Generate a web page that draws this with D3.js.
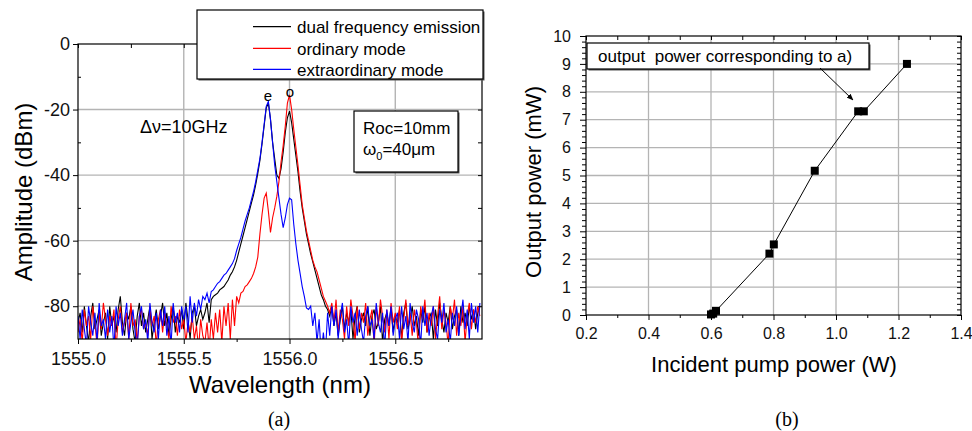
<!DOCTYPE html>
<html>
<head>
<meta charset="utf-8">
<script src="https://cdn.jsdelivr.net/npm/d3@7"></script>
<style>
  body { margin: 0; background: #fff; }
  svg { display: block; font-family: "Liberation Sans", Arial, sans-serif; }
</style>
</head>
<body>
<svg id="fig" width="972" height="431"></svg>
<script>
// ---------- panel (a): optical spectrum, one sample every 0.01 nm from 1555.00 nm ----------
const wlStart = 1555.0;
const wlStep = 0.01;

const dualEmission = [
  -85,-82,-88,-80,-86,-91,-83,-79,-87,-84,-81,-89,-85,-82,-90,-80,-86,-83,-88,-81,
  -77,-85,-89,-82,-84,-80,-87,-91,-83,-79,-86,-82,-88,-84,-80,-90,-85,-81,-87,-83,
  -79,-86,-82,-89,-84,-80,-88,-83,-85,-81,-87,-79,-84,-90,-82,-80,-86,-83,-81,-84,
  -82,-79,-85,-78,-77,-76.5,-76,-75,-74.5,-74,
  -73,-72,-70.5,-69.5,-68,-66,-63.5,-61,-58.5,-56,
  -53.5,-51,-48.5,-46,-43,-39.5,-35.5,-30.5,-25,-19.5,
  -18,-23,-30,-35,-40,-41,-38,-33,-27,-22.5,
  -20.5,-24,-29,-34,-39,-45,-50,-54,-58,-61,
  -64,-66.5,-69,-71.5,-74,-76.5,-78,-80,
  -81,-83,-80,-86,-82,-89,-84,-80,-87,-82,
  -85,-81,-90,-83,-80,-88,-84,-82,-86,-80,
  -89,-83,-81,-87,-85,-80,-91,-84,-82,-86,
  -80,-88,-83,-85,-81,-90,-82,-79,-87,-84,
  -80,-86,-83,-89,-81,-85,-80,-88,-84,-82,
  -90,-81,-86,-79,-84,-88,-82,-85,-80,-87,
  -83,-81,-89,-80,-85,-82,-86,-80,-84,-81,
  -87,-82,-80
];

const ordinaryMode = [
  -88,-84,-91,-81,-86,-83,-90,-80,-85,-92,-82,-87,-79,-84,-89,-83,-86,-81,-93,-84,
  -80,-88,-85,-82,-90,-79,-86,-84,-91,-83,-81,-87,-85,-89,-80,-86,-83,-92,-84,-81,
  -88,-82,-86,-90,-80,-85,-83,-89,-81,-87,-84,-91,-85,-88,-83,-90,-86,-93,-84,-89,
  -91,-85,-93,-84,-90,-82,-88,-81,-91,-80,
  -86,-79,-90,-78,-86,-77,-79,-76,-75.5,-74,
  -73.5,-72.5,-71.5,-70,-68,-65,-58,-52,-47,-45.5,
  -51,-57.5,-53,-50,-46.5,-42,-36,-31,-25,-18,
  -15.5,-20,-26,-31.5,-37,-43,-49,-53,-57,-60,
  -63,-66,-68,-69.5,-72,-74.5,-77,-78.5,
  -80,-82,-79,-85,-78,-88,-81,-84,-90,-80,
  -86,-78,-83,-91,-80,-87,-82,-85,-79,-89,
  -84,-81,-92,-80,-86,-78,-83,-88,-81,-90,
  -79,-85,-82,-87,-80,-91,-84,-78,-86,-82,
  -89,-81,-85,-93,-80,-84,-78,-88,-82,-86,
  -80,-90,-83,-77,-87,-81,-85,-92,-80,-84,
  -78,-89,-82,-86,-80,-91,-83,-79,-87,-81,
  -85,-80,-83
];

const extraordinaryMode = [
  -83,-90,-81,-87,-92,-80,-85,-89,-82,-91,-79,-86,-84,-90,-81,-88,-83,-93,-80,-86,
  -82,-89,-84,-79,-90,-85,-81,-88,-92,-83,-80,-87,-84,-91,-79,-85,-88,-82,-90,-81,
  -86,-80,-89,-83,-92,-79,-85,-82,-88,-80,
  -84,-80,-88,-77,-85,-79,-83,-78,-81,-77,
  -78,-76,-79,-75.5,-75,-74,-73,-72.5,-71.5,-70.5,
  -70,-69,-68,-67,-65.5,-63,-61,-59,-56.5,-54,
  -52,-50,-47.5,-45,-42,-38.5,-35,-30,-24.5,-19,
  -17.5,-23,-30,-37,-42,-47,-52,-56,-53,-49,
  -47,-47.5,-55,-61,-66,-70,-74,-77,-80.5,-81,
  -80,-86,-82,-91,-84,-95,-88,-94,-82,-89,-80,
  -86,-81,-90,-83,-79,-88,-84,-92,-80,-85,
  -82,-89,-81,-87,-91,-83,-80,-86,-84,-90,
  -79,-85,-88,-82,-93,-81,-86,-80,-89,-84,
  -82,-90,-80,-87,-83,-91,-79,-85,-88,-81,
  -84,-92,-80,-86,-82,-89,-83,-80,-87,-90,
  -81,-85,-79,-88,-84,-91,-82,-86,-80,-89,
  -83,-78,-87,-81,-90,-79,-85,-80,-88,-79
];

const ampTicks = [0, -20, -40, -60, -80];
const ampMinorTicks = [-10, -30, -50, -70];
const wlTicks = [1555.0, 1555.5, 1556.0, 1556.5];
const wlMinorTicks = [1555.25, 1555.75, 1556.25, 1556.75];

const spectrumSeries = [
  { label: "dual frequency emission", color: "#000000", values: dualEmission },
  { label: "ordinary mode", color: "#ff0000", values: ordinaryMode },
  { label: "extraordinary mode", color: "#0000ff", values: extraordinaryMode }
];

// ---------- panel (b): output vs pump power ----------
const pumpPower = [0.600, 0.607, 0.616, 0.787, 0.801, 0.932, 1.071, 1.089, 1.227];
const outputPower = [0.02, 0.05, 0.15, 2.2, 2.53, 5.17, 7.3, 7.3, 9.0];
const pumpTicks = [0.2, 0.4, 0.6, 0.8, 1.0, 1.2, 1.4];
const pumpMinorTicks = [0.3, 0.5, 0.7, 0.9, 1.1, 1.3];
const outTicks = d3.range(0, 11);
const outMinorTicks = [];
for (let v = 0; v < 10; v++) for (let k = 1; k < 5; k++) outMinorTicks.push(+(v + k * 0.2).toFixed(1));

const svg = d3.select("#fig");
const black = "#000";
const gridColor = "#b4b4b4";

// draws a tick-only axis (no domain path)
function tickAxis(g, axis, fontSize) {
  g.call(axis);
  g.select(".domain").remove();
  g.selectAll("line").attr("stroke", black).attr("stroke-width", 1);
  g.selectAll("text").attr("font-size", fontSize).attr("fill", "#111")
    .attr("font-family", "'Liberation Sans', Arial, sans-serif");
}

function shadowBox(g, x0, y0, x1, y1) {
  g.append("rect").attr("x", x0 + 1.5).attr("y", y0 + 1.5)
    .attr("width", x1 - x0).attr("height", y1 - y0).attr("fill", "#555");
  g.append("rect").attr("x", x0).attr("y", y0)
    .attr("width", x1 - x0).attr("height", y1 - y0)
    .attr("fill", "#fff").attr("stroke", black).attr("stroke-width", 1.2);
}

/* ================= panel (a) ================= */
{
  const L = 78, R = 482, T = 44, B = 339;
  const x = d3.scaleLinear().domain([1555, 1556.91]).range([L, R]);
  const y = d3.scaleLinear().domain([-90, 0]).range([B, T]);
  const g = svg.append("g");

  // grid
  const grid = g.append("g").attr("stroke", gridColor).attr("stroke-width", 1.4);
  wlTicks.slice(1).forEach(v => grid.append("line").attr("x1", x(v)).attr("x2", x(v)).attr("y1", T).attr("y2", B));
  ampTicks.slice(1).forEach(v => grid.append("line").attr("x1", L).attr("x2", R).attr("y1", y(v)).attr("y2", y(v)));

  // spectra
  g.append("clipPath").attr("id", "clipA").append("rect")
    .attr("x", L).attr("y", T).attr("width", R - L).attr("height", B - T);
  const line = d3.line().x((d, i) => x(wlStart + i * wlStep)).y(d => y(d));
  g.append("g").attr("clip-path", "url(#clipA)")
    .selectAll("path").data(spectrumSeries).join("path")
    .attr("d", d => line(d.values))
    .attr("fill", "none").attr("stroke", d => d.color).attr("stroke-width", 1.1);

  // frame + ticks
  g.append("rect").attr("x", L).attr("y", T).attr("width", R - L).attr("height", B - T)
    .attr("fill", "none").attr("stroke", black).attr("stroke-width", 1.2);
  tickAxis(g.append("g").attr("transform", `translate(0,${B})`),
    d3.axisBottom(x).tickValues(wlTicks).tickSize(5).tickPadding(8).tickFormat(d3.format(".1f")), 18);
  tickAxis(g.append("g").attr("transform", `translate(0,${B})`),
    d3.axisBottom(x).tickValues(wlMinorTicks).tickSize(3).tickFormat(""), 18);
  tickAxis(g.append("g").attr("transform", `translate(0,${T})`),
    d3.axisTop(x).tickValues(wlTicks.concat(wlMinorTicks)).tickSize(-4).tickFormat(""), 18);
  tickAxis(g.append("g").attr("transform", `translate(${L},0)`),
    d3.axisLeft(y).tickValues(ampTicks).tickSize(5).tickPadding(3).tickFormat(d => String(d)), 18);
  tickAxis(g.append("g").attr("transform", `translate(${L},0)`),
    d3.axisLeft(y).tickValues(ampMinorTicks).tickSize(-3).tickFormat(""), 18);
  tickAxis(g.append("g").attr("transform", `translate(${R},0)`),
    d3.axisRight(y).tickValues(ampTicks.concat(ampMinorTicks)).tickSize(-4).tickFormat(""), 18);

  // axis titles
  g.append("text").attr("x", 280).attr("y", 393).attr("text-anchor", "middle")
    .attr("font-size", 24).text("Wavelength (nm)");
  g.append("text").attr("transform", "translate(32,192) rotate(-90)").attr("text-anchor", "middle")
    .attr("font-size", 24).text("Amplitude (dBm)");

  // peak marks
  g.append("text").attr("x", 268).attr("y", 101).attr("text-anchor", "middle").attr("font-size", 15).text("e");
  g.append("text").attr("x", 290).attr("y", 97).attr("text-anchor", "middle").attr("font-size", 15).text("o");

  g.append("text").attr("x", 140).attr("y", 132.5).attr("font-size", 18).text("Δν=10GHz");

  // cavity parameters box
  shadowBox(g, 354, 111, 458, 172);
  g.append("text").attr("x", 363).attr("y", 133.5).attr("font-size", 17).text("Roc=10mm");
  const w0 = g.append("text").attr("x", 363).attr("y", 155).attr("font-size", 17);
  w0.append("tspan").text("ω");
  w0.append("tspan").attr("font-size", 11).attr("dy", 5).text("0");
  w0.append("tspan").attr("dy", -5).text("=40μm");

  // legend
  shadowBox(g, 197, 10, 483, 79);
  const rows = [26.7, 48.3, 69.3];
  spectrumSeries.forEach((s, i) => {
    g.append("line").attr("x1", 253).attr("x2", 291).attr("y1", rows[i]).attr("y2", rows[i])
      .attr("stroke", s.color).attr("stroke-width", 1.3);
    g.append("text").attr("x", 297).attr("y", rows[i] + 6.3).attr("font-size", 17).text(s.label);
  });

  g.append("text").attr("x", 279).attr("y", 426).attr("text-anchor", "middle")
    .attr("font-family", "'Liberation Serif', 'Times New Roman', serif").attr("font-size", 20).text("(a)");
}

/* ================= panel (b) ================= */
{
  const L = 586, R = 961, T = 36, B = 315;
  const x = d3.scaleLinear().domain([0.2, 1.4]).range([L, R]);
  const y = d3.scaleLinear().domain([0, 10]).range([B, T]);
  const g = svg.append("g");

  const grid = g.append("g").attr("stroke", gridColor).attr("stroke-width", 1.3);
  pumpTicks.slice(1, -1).forEach(v => grid.append("line").attr("x1", x(v)).attr("x2", x(v)).attr("y1", T).attr("y2", B));
  outTicks.slice(1, -1).forEach(v => grid.append("line").attr("x1", L).attr("x2", R).attr("y1", y(v)).attr("y2", y(v)));

  g.append("rect").attr("x", L).attr("y", T).attr("width", R - L).attr("height", B - T)
    .attr("fill", "none").attr("stroke", black).attr("stroke-width", 1.2);

  tickAxis(g.append("g").attr("transform", `translate(0,${B})`),
    d3.axisBottom(x).tickValues(pumpTicks).tickSize(5).tickPadding(8).tickFormat(d3.format(".1f")), 16);
  tickAxis(g.append("g").attr("transform", `translate(0,${B})`),
    d3.axisBottom(x).tickValues(pumpMinorTicks).tickSize(3).tickFormat(""), 16);
  tickAxis(g.append("g").attr("transform", `translate(0,${T})`),
    d3.axisTop(x).tickValues(pumpTicks.concat(pumpMinorTicks)).tickSize(-4).tickFormat(""), 16);
  tickAxis(g.append("g").attr("transform", `translate(${L},0)`),
    d3.axisLeft(y).tickValues(outTicks).tickSize(6).tickPadding(9).tickFormat(d => String(d)), 16);
  tickAxis(g.append("g").attr("transform", `translate(${L},0)`),
    d3.axisLeft(y).tickValues(outMinorTicks).tickSize(4).tickFormat(""), 16);
  tickAxis(g.append("g").attr("transform", `translate(${R},0)`),
    d3.axisRight(y).tickValues(outTicks.concat(outMinorTicks)).tickSize(-4).tickFormat(""), 16);

  const pts = pumpPower.map((p, i) => [p, outputPower[i]]);
  g.append("path").datum(pts)
    .attr("d", d3.line().x(d => x(d[0])).y(d => y(d[1])))
    .attr("fill", "none").attr("stroke", black).attr("stroke-width", 1);
  g.selectAll("rect.pt").data(pts).join("rect").attr("class", "pt")
    .attr("x", d => x(d[0]) - 4).attr("y", d => y(d[1]) - 4)
    .attr("width", 8).attr("height", 8).attr("fill", black);

  // annotation
  shadowBox(g, 587, 43, 869, 69);
  g.append("text").attr("x", 598).attr("y", 62).attr("font-size", 17)
    .style("white-space", "pre").text("output  power corresponding to a)");
  svg.append("defs").append("marker").attr("id", "arr").attr("viewBox", "0 0 10 10")
    .attr("refX", 9).attr("refY", 5).attr("markerWidth", 7).attr("markerHeight", 7)
    .attr("orient", "auto").append("path").attr("d", "M0,1 L10,5 L0,9 Z").attr("fill", black);
  g.append("line").attr("x1", 820).attr("y1", 68).attr("x2", 853).attr("y2", 100)
    .attr("stroke", black).attr("stroke-width", 1).attr("marker-end", "url(#arr)");

  g.append("text").attr("x", 774).attr("y", 371.5).attr("text-anchor", "middle")
    .attr("font-size", 22).text("Incident pump power (W)");
  g.append("text").attr("transform", "translate(541,182) rotate(-90)").attr("text-anchor", "middle")
    .attr("font-size", 22).text("Output power (mW)");

  g.append("text").attr("x", 787).attr("y", 426).attr("text-anchor", "middle")
    .attr("font-family", "'Liberation Serif', 'Times New Roman', serif").attr("font-size", 20).text("(b)");
}
</script>
</body>
</html>
